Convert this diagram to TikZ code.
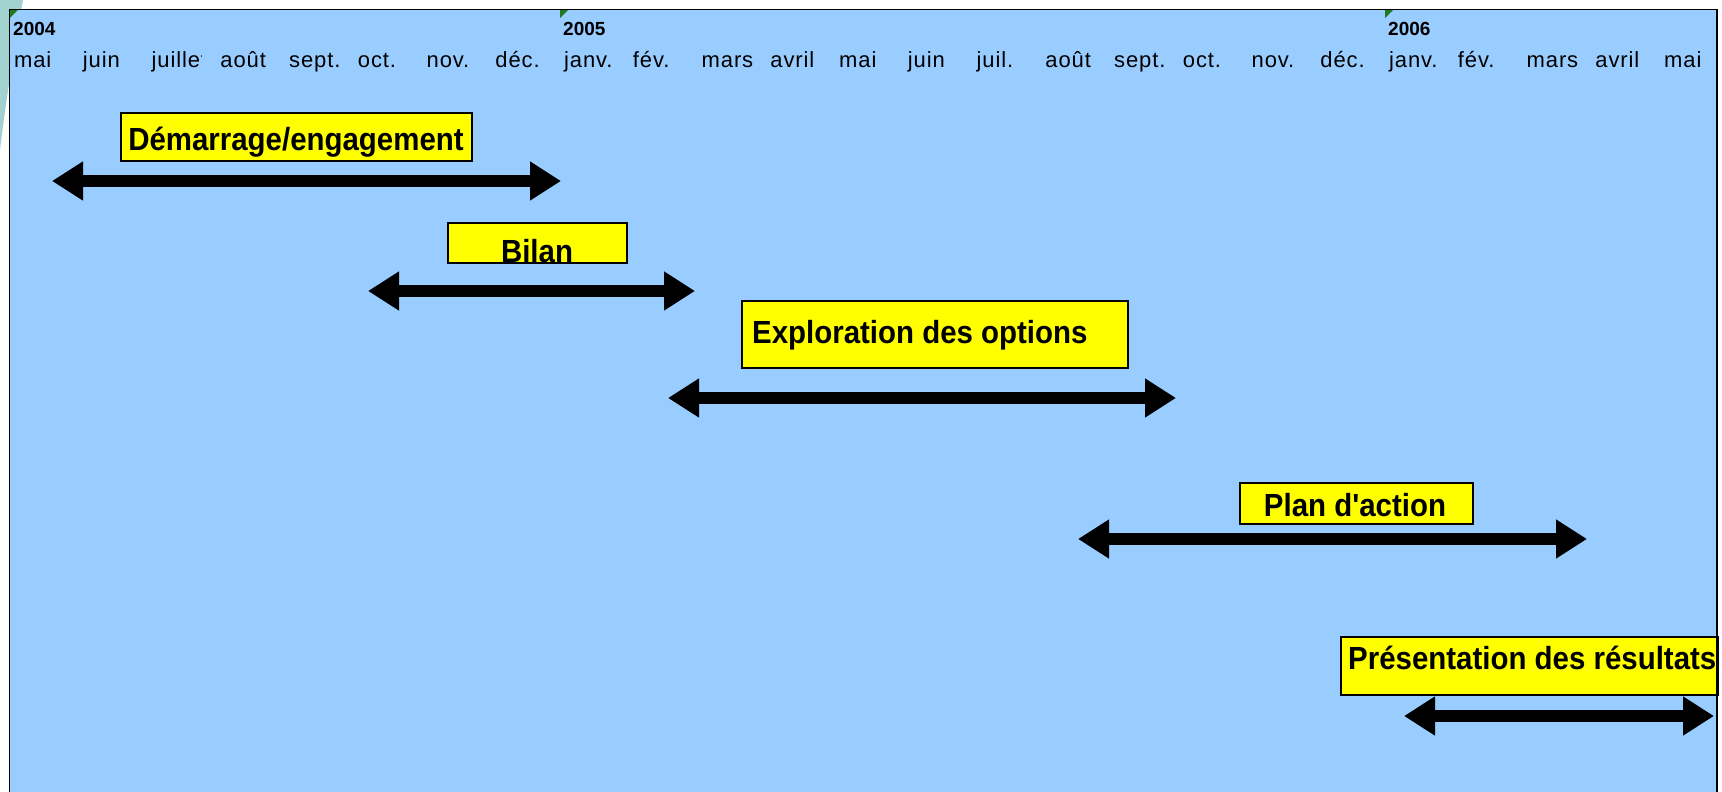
\documentclass[tikz,border=0pt]{standalone}
\usepackage{fontspec}
\setmainfont{Liberation Sans}
\newfontfamily\labfont{Liberation Sans}[FakeStretch=0.92]
\newfontfamily\monthfont{Liberation Sans}[LetterSpace=4]
\usetikzlibrary{arrows.meta}
\definecolor{bgblue}{HTML}{99CCFF}
\definecolor{boxyellow}{HTML}{FFFF00}
\definecolor{tealdeco}{HTML}{A2D2CF}
\definecolor{markgreen}{HTML}{1E7A1E}
\tikzset{
  month/.style={font=\monthfont\fontsize{22}{22}\selectfont, inner sep=0pt, anchor=base west},
  year/.style={font=\fontsize{19}{19}\bfseries\selectfont, inner sep=0pt, anchor=base west},
  lab/.style={font=\labfont\fontsize{32}{32}\bfseries\selectfont, inner sep=0pt},
  yellowbox/.style={draw=black, line width=1.6pt, fill=boxyellow, inner sep=0pt, anchor=north west},
  garrow/.style={line width=12pt, {Triangle[length=31pt,width=37pt]}-{Triangle[length=31pt,width=37pt]}},
  yearmark/.style={fill=markgreen}
}
\begin{document}
\begin{tikzpicture}[x=1pt,y=-1pt]
\useasboundingbox (0,0) rectangle (1722,792);
\fill[white] (0,0) rectangle (1722,792);
% decoration
\fill[tealdeco] (0,0) -- (23,0) .. controls (14,50) and (6,100) .. (0,150) -- cycle;
% background panel
\fill[bgblue] (9.5,9.5) rectangle (1717,792);
% year markers
\fill[yearmark] (10,10) -- (18,10) -- (10,18) -- cycle;
\fill[yearmark] (560,10) -- (568,10) -- (560,18) -- cycle;
\fill[yearmark] (1385,10) -- (1393,10) -- (1385,18) -- cycle;
\node[year] (y2004) at (13,36) {2004};
\node[year] (y2005) at (563,36) {2005};
\node[year] (y2006) at (1388,36) {2006};
% months
\foreach \lbl [count=\i from 0] in {mai,juin,,août,sept.,oct.,nov.,déc.,janv.,fév.,mars,avril,mai,juin,juil.,août,sept.,oct.,nov.,déc.,janv.,fév.,mars,avril,mai}{
  \node[month] (m\i) at ({14+68.75*\i},68) {\lbl};
}
\begin{scope}
  \clip (147,40) rectangle (201,80);
  \node[month] (mjul) at (151.5,68) {juillet};
\end{scope}
% boxes
\node[yellowbox, minimum width=351pt, minimum height=48pt] (b1) at (120,112) {};
\node[lab, anchor=base] (t1) at (296,150) {Démarrage/engagement};
\node[yellowbox, minimum width=179pt, minimum height=40pt] (b2) at (447,222) {};
\node[lab, anchor=base] (t2) at (537,262) {Bilan};
\node[yellowbox, minimum width=386pt, minimum height=67pt] (b3) at (741,300) {};
\node[lab, anchor=base west] (t3) at (752,343) {Exploration des options};
\node[yellowbox, minimum width=233pt, minimum height=41pt] (b4) at (1239,482) {};
\node[lab, anchor=base] (t4) at (1355,516) {Plan d'action};
\node[yellowbox, minimum width=377pt, minimum height=58pt] (b5) at (1340,636) {};
\node[lab, anchor=base west] (t5) at (1348,669) {Présentation des résultats};
% arrows
\coordinate (a1l) at (52,181);   \coordinate (a1r) at (561,181);
\coordinate (a2l) at (368,291);  \coordinate (a2r) at (695,291);
\coordinate (a3l) at (668,398);  \coordinate (a3r) at (1176,398);
\coordinate (a4l) at (1078,539); \coordinate (a4r) at (1587,539);
\coordinate (a5l) at (1404,716); \coordinate (a5r) at (1714,716);
\draw[garrow] (a1l) -- (a1r);
\draw[garrow] (a2l) -- (a2r);
\draw[garrow] (a3l) -- (a3r);
\draw[garrow] (a4l) -- (a4r);
\draw[garrow] (a5l) -- (a5r);
% frame
\draw[line width=1.8pt] (9.5,792) -- (9.5,9.5) -- (1717,9.5) -- (1717,792);
\end{tikzpicture}
\end{document}
